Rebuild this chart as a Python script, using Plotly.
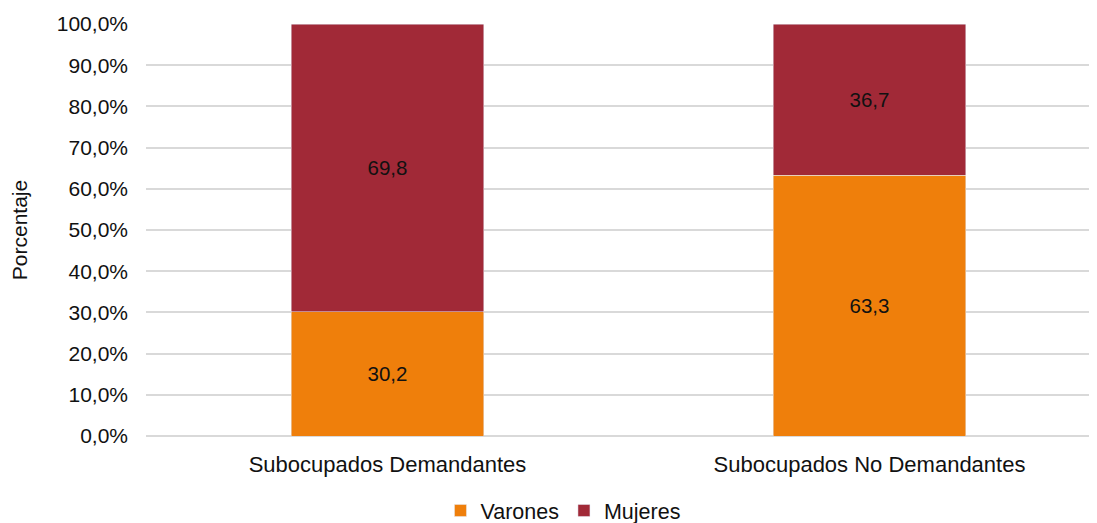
import plotly.graph_objects as go

categories = ["Subocupados Demandantes", "Subocupados No Demandantes"]
varones = [30.2, 63.3]
mujeres = [69.8, 36.7]
tick_vals = [0, 10, 20, 30, 40, 50, 60, 70, 80, 90, 100]
tick_text = ["0,0%", "10,0%", "20,0%", "30,0%", "40,0%", "50,0%", "60,0%", "70,0%", "80,0%", "90,0%", "100,0%"]

def fmt(v):
    return f"{v:.1f}".replace(".", ",")

font = "Liberation Sans, Arial, Helvetica, sans-serif"

fig = go.Figure()
fig.add_trace(go.Bar(
    name="Varones", x=categories, y=varones, marker_color="#EF7F0B",
    text=[fmt(v) for v in varones], textposition="inside", insidetextanchor="middle",
    textfont=dict(color="#111111", size=20.5, family=font), width=0.4,
))
fig.add_trace(go.Bar(
    name="Mujeres", x=categories, y=mujeres, marker_color="#A12937",
    text=[fmt(v) for v in mujeres], textposition="inside", insidetextanchor="middle",
    textfont=dict(color="#111111", size=20.5, family=font), width=0.4,
))

fig.update_layout(
    barmode="stack",
    width=1097, height=523,
    margin=dict(l=138, r=0, t=16, b=94),
    plot_bgcolor="white", paper_bgcolor="white",
    font=dict(family=font, size=20, color="#111111"),
    uniformtext=dict(mode=False),
    legend=dict(orientation="h", x=0.4348, xanchor="center", y=-0.1816, yanchor="middle",
                font=dict(size=21.5), traceorder="normal", itemwidth=30),
    xaxis=dict(range=[-0.501, 1.4886], showgrid=False, showline=False, automargin=False,
               tickfont=dict(size=22), ticks="", ticklabelstandoff=13),
    yaxis=dict(range=[0, 100], tickvals=tick_vals, ticktext=tick_text, automargin=False,
               showgrid=True, gridcolor="#D9D9D9", gridwidth=1.5,
               zeroline=True, zerolinecolor="#D9D9D9", zerolinewidth=1.5,
               tickfont=dict(size=21), ticklabelstandoff=17,
               title=dict(text="Porcentaje", font=dict(size=21), standoff=27)),
)

fig.write_html("out.html")
